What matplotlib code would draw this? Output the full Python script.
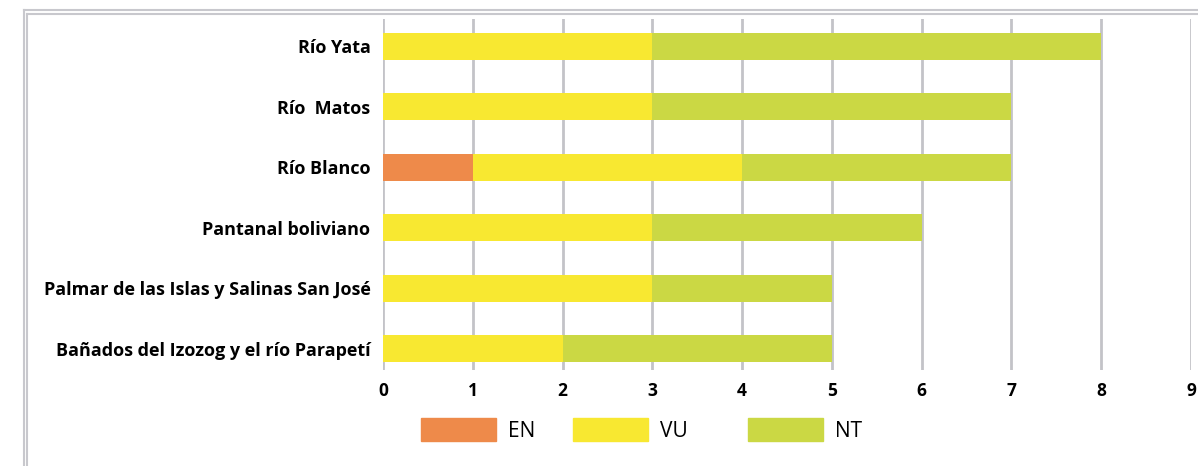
import matplotlib.pyplot as plt
from matplotlib.patches import Patch
from matplotlib.lines import Line2D

# data (bottom to top as drawn)
sites = ["Bañados del Izozog y el río Parapetí", "Palmar de las Islas y Salinas San José",
         "Pantanal boliviano", "Río Blanco", "Río  Matos", "Río Yata"]
en = [0, 0, 0, 1, 0, 0]
vu = [2, 3, 3, 3, 3, 3]
nt = [3, 2, 3, 3, 4, 5]
x_ticks = [0, 1, 2, 3, 4, 5, 6, 7, 8, 9]
series = ["EN", "VU", "NT"]

colors = {"EN": "#EE8A4A", "VU": "#F8E831", "NT": "#CBD844"}
grid_c = "#c3c3c8"

plt.rcParams["font.family"] = ["Open Sans", "DejaVu Sans"]

fig = plt.figure(figsize=(11.98, 4.66), dpi=100)
W, H = 1198, 466
ax = fig.add_axes([383 / W, 1 - 370 / H, (1191 - 383) / W, (370 - 19) / H])

pos = list(range(len(sites)))
h = 0.45
left_vu = [a for a in en]
left_nt = [a + b for a, b in zip(en, vu)]
ax.barh(pos, en, height=h, color=colors["EN"], zorder=3)
ax.barh(pos, vu, left=left_vu, height=h, color=colors["VU"], zorder=3)
ax.barh(pos, nt, left=left_nt, height=h, color=colors["NT"], zorder=3)

ax.set_xlim(0, 9)
ax.set_ylim(-0.35, 5.45)
ax.set_xticks(x_ticks)
ax.set_xticklabels([str(t) for t in x_ticks], fontweight="bold", fontsize=12.5)
ax.set_yticks(pos)
ax.set_yticklabels(sites, fontweight="bold", fontsize=13)
ax.tick_params(axis="y", length=0, pad=9)
ax.tick_params(axis="x", length=0, pad=9)
ax.grid(axis="x", color=grid_c, linewidth=2, zorder=0)
for s in ax.spines.values():
    s.set_visible(False)

# double frame around chart area (left and top visible)
for off in (23.5, 27.5):
    fig.add_artist(Line2D([off / W, off / W], [0, 1 - (off - 14) / H], color="#c8c8cd", lw=1.5,
                          transform=fig.transFigure))
    fig.add_artist(Line2D([off / W, 1], [1 - (off - 14) / H, 1 - (off - 14) / H], color="#c8c8cd",
                          lw=1.5, transform=fig.transFigure))

# legend entries, laid out like the original (uneven spacing)
leg_x = [421, 573, 748]
for name, lx in zip(series, leg_x):
    fig.legend([Patch(color=colors[name])], [name], loc="center left",
               bbox_to_anchor=(lx / W, 1 - 430 / H), frameon=False, fontsize=15,
               handlelength=3.6, handleheight=1.25, handletextpad=0.6,
               borderpad=0, borderaxespad=0)

fig.savefig("out.png", dpi=100)
